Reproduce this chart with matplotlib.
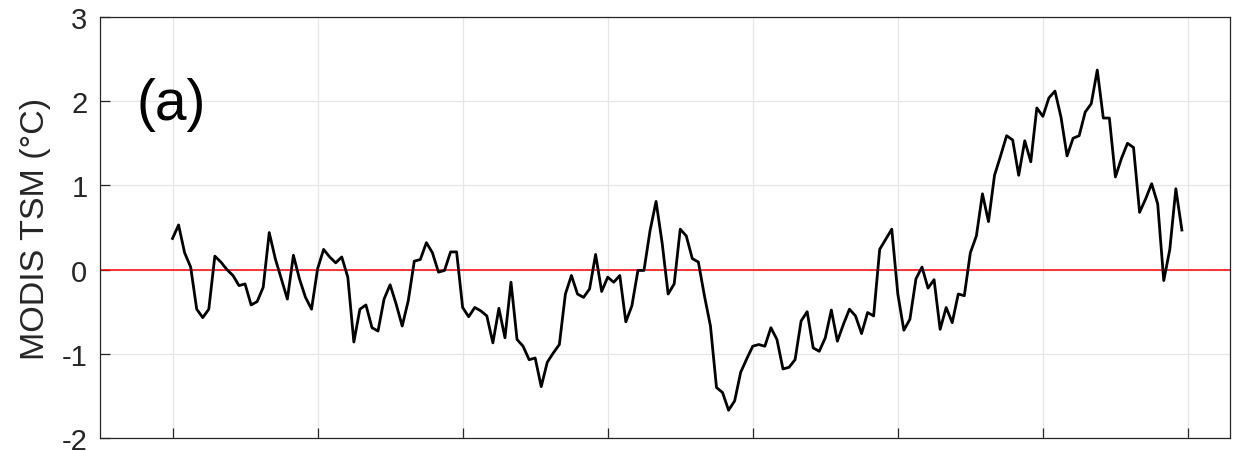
import matplotlib
matplotlib.use("Agg")
import matplotlib.pyplot as plt
import numpy as np

# Monthly MODIS TSM anomaly (°C), first value in January of start_year
start_year = 2003
tsm_anomaly = [
    0.37, 0.53, 0.20, 0.03, -0.47, -0.57, -0.47, 0.16, 0.09, 0.00, -0.07, -0.19,
    -0.17, -0.42, -0.38, -0.21, 0.44, 0.13, -0.11, -0.35, 0.17, -0.11, -0.33, -0.47,
    0.01, 0.24, 0.15, 0.08, 0.15, -0.09, -0.86, -0.47, -0.42, -0.69,
    -0.73, -0.35, -0.18, -0.41, -0.67, -0.37, 0.10, 0.12, 0.32, 0.20, -0.03, -0.01,
    0.21, 0.21, -0.45, -0.56, -0.45, -0.49, -0.55, -0.87, -0.46, -0.81, -0.15, -0.83,
    -0.91, -1.07, -1.05, -1.39, -1.10, -0.99, -0.89, -0.29, -0.07, -0.29,
    -0.33, -0.23, 0.18, -0.26, -0.09, -0.15, -0.07, -0.62, -0.43, -0.01, -0.01, 0.46,
    0.81, 0.32, -0.29, -0.17, 0.48, 0.40, 0.13, 0.09, -0.31, -0.67, -1.40, -1.46,
    -1.67, -1.56, -1.22, -1.06, -0.91, -0.89, -0.91, -0.69, -0.83, -1.18,
    -1.16, -1.07, -0.61, -0.50, -0.93, -0.97, -0.81, -0.48, -0.85, -0.65, -0.47, -0.55,
    -0.76, -0.51, -0.55, 0.24, 0.36, 0.48, -0.29, -0.72, -0.59, -0.11, 0.03, -0.22,
    -0.12, -0.71, -0.45, -0.63, -0.29, -0.31, 0.20, 0.40, 0.90,
    0.57, 1.12, 1.35, 1.59, 1.54, 1.12, 1.53, 1.28, 1.92, 1.82, 2.04, 2.12,
    1.81, 1.35, 1.56, 1.59, 1.87, 1.97, 2.37, 1.80, 1.80, 1.10, 1.32, 1.50,
    1.45, 0.68, 0.84, 1.02, 0.78, -0.13, 0.24, 0.96, 0.47,
]
tick_years = [2003, 2005, 2007, 2009, 2011, 2013, 2015, 2017]
y_ticks = [-2, -1, 0, 1, 2, 3]
y_label = "MODIS TSM (°C)"
panel_label = "(a)"

plt.rcParams["font.family"] = ["Liberation Sans", "DejaVu Sans"]

W, H = 1245, 452
fig = plt.figure(figsize=(W / 100, H / 100), dpi=100)
ax = fig.add_axes([100 / W, 13 / H, 1130 / W, 421 / H])

t = start_year + np.arange(len(tsm_anomaly)) / 12.0
ax.plot(t, tsm_anomaly, color="black", lw=2.0, zorder=3)
ax.axhline(0, color="red", lw=1.1, zorder=2)

ax.set_xlim(2002.0, 2017.58)
ax.set_ylim(-2, 3)
ax.set_xticks(tick_years)
ax.set_xticklabels([])
ax.set_yticks(y_ticks)
ax.set_yticklabels([str(v) for v in y_ticks])

ax.grid(True, color="#e6e6e6", lw=0.9, zorder=0)
ax.set_axisbelow(True)
ax.tick_params(direction="in", length=7, width=0.9, colors="#262626",
               labelsize=21, pad=9, top=False, right=False)
for s in ax.spines.values():
    s.set_color("#262626")
    s.set_linewidth(0.9)

ax.set_ylabel(y_label, fontsize=24.5, color="#262626")
ax.yaxis.set_label_coords(-0.043, 0.5)

ax.text(0.032, 0.793, panel_label, transform=ax.transAxes, fontsize=41,
        ha="left", va="center", color="black")

fig.savefig("out.png", dpi=100, facecolor="white")
